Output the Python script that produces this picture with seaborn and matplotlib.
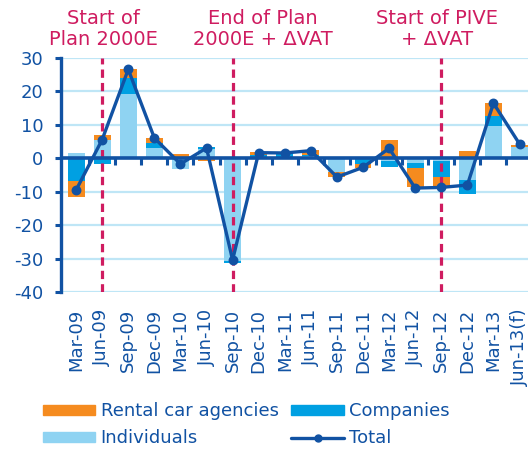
import numpy as np
import pandas as pd
import matplotlib.pyplot as plt
from matplotlib.patches import Patch
from matplotlib.lines import Line2D
import seaborn as sns

# quarterly change, by buyer type
quarters = ["Mar-09", "Jun-09", "Sep-09", "Dec-09", "Mar-10", "Jun-10",
            "Sep-10", "Dec-10", "Mar-11", "Jun-11", "Sep-11", "Dec-11",
            "Mar-12", "Jun-12", "Sep-12", "Dec-12", "Mar-13", "Jun-13(f)"]
individuals = [1.6, 5.5, 19.3, 3.0, -3.2, 2.8, -30.8, 0.0, 0.3, 0.8, -4.0, 0.0,
               -0.8, -1.3, -0.7, -6.5, 9.8, 3.3]
companies = [-6.7, -1.7, 4.7, 1.5, 0.0, 0.7, -0.5, 1.0, 1.3, 0.3, -0.2, -1.7,
             -1.8, -1.7, -5.0, -4.2, 3.0, 0.0]
rental = [-4.8, 1.5, 2.6, 1.6, 1.3, -0.7, 0.3, 0.8, 0.0, 1.3, -1.5, -1.2,
          5.5, -5.7, -2.8, 2.3, 3.7, 0.8]
total = [-9.5, 5.6, 26.6, 6.1, -1.7, 3.1, -30.4, 1.7, 1.6, 2.3, -5.6, -2.7,
         3.0, -8.9, -8.7, -8.0, 16.5, 4.3]

event_quarters = ["Jun-09", "Sep-10", "Sep-12"]
event_labels = ["Start of\nPlan 2000E", "End of Plan\n2000E + \u0394VAT",
                "Start of PIVE\n+ \u0394VAT"]
event_text_shift = [0.03, 1.16, -0.17]  # label offset from its line (categories)

series = ["Individuals", "Companies", "Rental car agencies"]
colors = {"Individuals": "#8fd3f2", "Companies": "#00a0e2",
          "Rental car agencies": "#f58b1f"}
navy = "#1152a3"
crimson = "#cf1c60"
grid_blue = "#bfe6f6"

df = pd.DataFrame({"quarter": quarters, "Individuals": individuals,
                   "Companies": companies, "Rental car agencies": rental})

sns.set_style("white")
plt.rcParams["font.family"] = ["DejaVu Sans"]
plt.rcParams["axes.unicode_minus"] = False

fig = plt.figure(figsize=(5.3, 4.5), dpi=100)
ax = fig.add_axes([0.115, 0.351, 0.881, 0.520])

# stacked bars: positive and negative parts stacked separately
for part in (df[series].clip(lower=0), df[series].clip(upper=0)):
    cum = part.cumsum(axis=1)
    for name in reversed(series):
        sns.barplot(x=df["quarter"], y=cum[name], order=quarters,
                    color=colors[name], saturation=1, width=0.65,
                    linewidth=0, errorbar=None, ax=ax, zorder=1)

# policy events
for q, lab, dx in zip(event_quarters, event_labels, event_text_shift):
    i = quarters.index(q)
    ax.axvline(i, color=crimson, lw=2.3, ls=(0, (2.6, 1.6)), zorder=2)
    ax.text(i + dx, 1.125, lab, transform=ax.get_xaxis_transform(),
            ha="center", va="center", color=crimson, fontsize=14,
            linespacing=1.15)

# zero line with ticks between quarters
ax.axhline(0, color=navy, lw=2.6, zorder=3)
ax.vlines(np.arange(len(quarters) - 1) + 0.5, -2.0, 0, color=navy, lw=2.2,
          zorder=3)

sns.pointplot(x=quarters, y=total, color=navy, markers="o", linestyles="-",
              markersize=5.3, linewidth=2.4, errorbar=None, ax=ax, zorder=4)

ax.set_xlim(-0.58, len(quarters) - 0.68)
ax.set_ylim(-40, 30)
ax.set_yticks(range(-40, 31, 10))
ax.set_xticks(range(len(quarters)))
ax.set_xticklabels(quarters, rotation=90)
ax.set_xlabel("")
ax.set_ylabel("")

ax.set_axisbelow(True)
ax.yaxis.grid(True, color=grid_blue, lw=1.6)
ax.xaxis.grid(False)
for s in ["top", "right", "bottom"]:
    ax.spines[s].set_visible(False)
ax.spines["left"].set_color(navy)
ax.spines["left"].set_linewidth(2.4)
ax.tick_params(axis="y", colors=navy, labelsize=13, direction="out",
               length=4.5, width=2.2, pad=8, left=True)
ax.tick_params(axis="x", colors=navy, labelsize=13, length=0, pad=12)

handles = [Patch(color=colors["Rental car agencies"]),
           Patch(color=colors["Individuals"]),
           Patch(color=colors["Companies"]),
           Line2D([], [], color=navy, lw=2.4, marker="o", markersize=5)]
labels = ["Rental car agencies", "Individuals", "Companies", "Total"]
leg = fig.legend(handles, labels, ncol=2, loc="upper left",
                 bbox_to_anchor=(0.081, 0.106), frameon=False, fontsize=13,
                 handlelength=2.9, handleheight=0.5, handletextpad=0.3,
                 columnspacing=0.7, labelspacing=0.5, borderpad=0,
                 borderaxespad=0)
for t in leg.get_texts():
    t.set_color(navy)

fig.savefig("out.png", dpi=100)
